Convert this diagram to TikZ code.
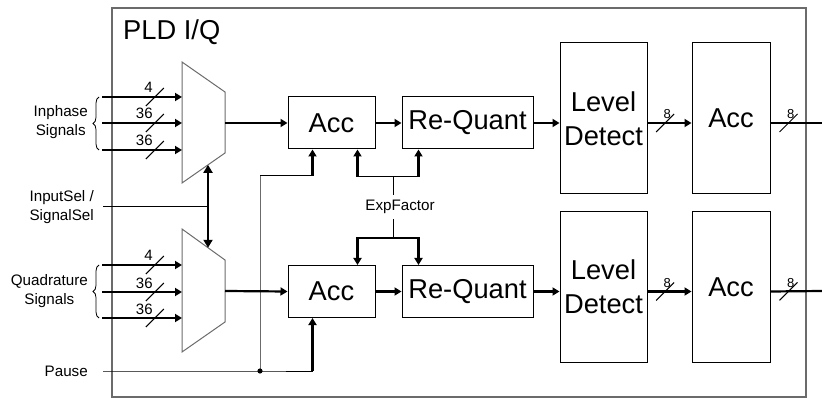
\documentclass[tikz,border=0pt]{standalone}
\usepackage{fontspec}
\setmainfont{Liberation Sans}
\usepackage{tikz}
\usetikzlibrary{arrows.meta, positioning, calc, decorations.pathreplacing}

\definecolor{framegray}{gray}{0.42}

\tikzset{
	blk/.style={draw, line width=1pt, minimum width=87pt, minimum height=52pt, inner sep=0pt, align=center, font=\fontsize{27.3}{34}\selectfont},
	tallblk/.style={blk, minimum height=151pt},
	bus/.style={line width=2.2pt, -{Triangle[length=7pt, width=8pt]}},
	fatwire/.style={line width=2.2pt},
	wire/.style={line width=1pt},
	lbl/.style={inner sep=1pt, align=center, font=\fontsize{15.2}{19.5}\selectfont},
	bitlbl/.style={inner sep=0pt, anchor=base east, font=\fontsize{15}{15}\selectfont},
	smallbit/.style={font=\fontsize{13}{13}\selectfont},
}

% bus width mark: slash plus number
\newcommand{\buswidth}[3][-2]{%
	\draw[wire] ([shift={(-9,9)}]#2) -- ([shift={(9,-9)}]#2);
	\node[bitlbl] at ([shift={(#1,-4)}]#2) {#3};}

\begin{document}
\begin{tikzpicture}[x=1pt, y=-1pt]
			\useasboundingbox (0,0) rectangle (822,398);
			% Frame and title:
			\draw[framegray, line width=1.2pt] (112,8) rectangle (806,397);
			\node[anchor=base west, inner sep=0pt, font=\fontsize{27.3}{30}\selectfont] (title) at (123,39.5) {PLD I/Q};
			% Multiplexers:
			\draw[framegray, line width=1pt] (182,62) coordinate (m1tl) -- (225,92) coordinate (m1tr)
				-- (225,153) coordinate (m1br) -- (182,183) coordinate (m1bl) -- cycle;
			\draw[framegray, line width=1pt] (182,229) coordinate (m2tl) -- (225,260) coordinate (m2tr)
				-- (225,322) coordinate (m2br) -- (182,352) coordinate (m2bl) -- cycle;
			\coordinate (m1out) at (225,123);
			\coordinate (m2out) at (225,291);
			% Blocks:
			\node[blk] (acc1) at (331.5,123) {Acc};
			\node[blk, minimum width=131pt] (rq1) at (467.5,123) {Re-Quant};
			\node[tallblk] (ld1) at (603.5,118.5) {Level\\Detect};
			\node[tallblk, minimum width=78pt] (acc3) at (731,118.5) {Acc};
			\node[blk] (acc2) at (331.5,291.5) {Acc};
			\node[blk, minimum width=131pt] (rq2) at (467.5,291.5) {Re-Quant};
			\node[tallblk] (ld2) at (603.5,287) {Level\\Detect};
			\node[tallblk, minimum width=78pt] (acc4) at (731,287) {Acc};
			% Inputs:
			\node[lbl, anchor=east] (inph) at (89,122) {Inphase\\Signals};
			\node[lbl, anchor=east] (quad) at (89,291) {Quadrature\\Signals};
			\draw[decorate, decoration={brace, amplitude=6pt}, line width=0.8pt] (99,150) -- (99,97);
			\draw[decorate, decoration={brace, amplitude=6pt}, line width=0.8pt] (99,318) -- (99,265);
			\coordinate (in1) at (102,97);
			\coordinate (in2) at (102,123);
			\coordinate (in3) at (102,150);
			\coordinate (in4) at (102,265);
			\coordinate (in5) at (102,292);
			\coordinate (in6) at (102,318);
			\draw[bus] (in1) -- (in1 -| m1tl) coordinate[pos=.66] (s1);
			\draw[bus] (in2) -- (in2 -| m1tl) coordinate[pos=.66] (s2);
			\draw[bus] (in3) -- (in3 -| m1tl) coordinate[pos=.66] (s3);
			\draw[bus] (in4) -- (in4 -| m2tl) coordinate[pos=.66] (s4);
			\draw[bus] (in5) -- (in5 -| m2tl) coordinate[pos=.66] (s5);
			\draw[bus] (in6) -- (in6 -| m2tl) coordinate[pos=.66] (s6);
			\buswidth{s1}{4}
			\buswidth{s2}{36}
			\buswidth{s3}{36}
			\buswidth{s4}{4}
			\buswidth{s5}{36}
			\buswidth{s6}{36}
			% Select:
			\node[lbl, anchor=east] (sel) at (95,207) {InputSel /\\SignalSel};
			\coordinate (selin) at (103,207);
			\coordinate (selup) at ($(m1bl)!.605!(m1br)$);
			\coordinate (seldn) at ($(m2tl)!.605!(m2tr)$);
			\draw[fatwire, {Triangle[length=8pt, width=9pt]}-{Triangle[length=8pt, width=9pt]}] (selup) -- (seldn);
			\draw[wire] (selin) -- (selin -| selup);
			% Pause:
			\node[lbl, anchor=east] (pause) at (89,371) {Pause};
			\coordinate (pin) at (103,371);
			\coordinate (tap) at (260,371);
			\coordinate (turn) at (260,176);
			\coordinate (pz1) at ($(acc1.south west)+(25,0)$);
			\coordinate (pz2) at ($(acc2.south west)+(25,0)$);
			\draw[wire] (pin) -- (tap) -- (tap -| pz2);
			\draw[bus] (tap -| pz2) -- (pz2);
			\draw[wire, framegray] (tap) -- (turn);
			\draw[wire] (turn) -- (turn -| pz1);
			\draw[bus] (turn -| pz1) -- (pz1);
			\fill (tap) circle (2.6pt);
			% ExpFactor:
			\node[lbl, inner sep=5pt] (exp) at (400,207) {ExpFactor};
			\coordinate (ex1) at (393,177);
			\coordinate (ex2) at (393,238);
			\coordinate (ea1) at ($(acc1.south east)+(-18,0)$);
			\coordinate (er1) at ($(rq1.south west)+(17,0)$);
			\coordinate (ea2) at ($(acc2.north east)+(-18,0)$);
			\coordinate (er2) at ($(rq2.north west)+(17,0)$);
			\draw[wire] (ex1) -- (ex1 |- exp.north);
			\draw[wire] (ea1 |- ex1) -- (er1 |- ex1);
			\draw[bus] (ea1 |- ex1) -- (ea1);
			\draw[bus] (er1 |- ex1) -- (er1);
			\draw[wire] (exp.south -| ex2) -- (ex2);
			\draw[fatwire, {Triangle[length=7pt, width=8pt]}-{Triangle[length=7pt, width=8pt]}] (ea2) -- (ea2 |- ex2) -- (er2 |- ex2) -- (er2);
			% Data path:
			\coordinate (out1) at (822,123);
			\coordinate (out2) at (822,291);
			\draw[bus] (m1out) -- (acc1.west);
			\draw[bus] (acc1) -- (rq1);
			\draw[bus] (rq1.east) -- (ld1.west |- rq1.east);
			\draw[bus] (ld1.east |- rq1) -- (acc3.west |- rq1) coordinate[pos=.4] (s7);
			\draw[fatwire] (acc3.east |- rq1) -- (out1) coordinate[pos=.35] (s8);
			\draw[bus] (m2out) -- (acc2.west);
			\draw[bus] (acc2) -- (rq2);
			\draw[bus] (rq2.east) -- (ld2.west |- rq2.east);
			\draw[bus] (ld2.east |- rq2) -- (acc4.west |- rq2) coordinate[pos=.4] (s9);
			\draw[fatwire] (acc4.east |- rq2) -- (out2) coordinate[pos=.35] (s10);
			\tikzset{bitlbl/.append style={smallbit}}
			\buswidth[6]{s7}{8}
			\buswidth[6]{s8}{8}
			\buswidth[6]{s9}{8}
			\buswidth[6]{s10}{8}
		\end{tikzpicture}
\end{document}
